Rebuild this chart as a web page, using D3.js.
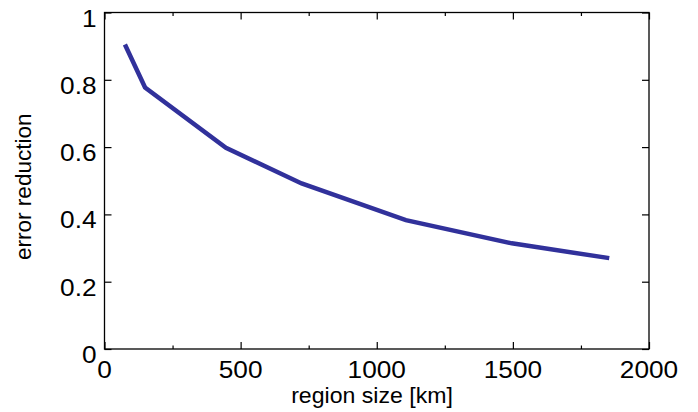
<!DOCTYPE html>
<html>
<head>
<meta charset="utf-8">
<script src="https://d3js.org/d3.v7.min.js"></script>
<style>
  html, body { margin: 0; padding: 0; background: #fff; }
  svg { display: block; }
  text { font-family: "Liberation Sans", Arial, Helvetica, sans-serif; fill: #000; }
</style>
</head>
<body>
<svg id="chart" width="698" height="412"></svg>
<script>
// ---- data ----
const regionSize = [75, 149, 446, 724, 1107, 1496, 1854];
const errorReduction = [0.905, 0.777, 0.598, 0.492, 0.383, 0.314, 0.270];
const xTickValues = [0, 500, 1000, 1500, 2000];
const xMinorTickValues = [250, 750, 1250, 1750];
const yTickValues = [0, 0.2, 0.4, 0.6, 0.8, 1];
const xTickLabels = ["0", "500", "1000", "1500", "2000"];
const yTickLabels = ["0", "0.2", "0.4", "0.6", "0.8", "1"];
const xLabel = "region size [km]";
const yLabel = "error reduction";

// ---- layout ----
const L = 104.5, R = 649, T = 12.5, B = 349;
const svg = d3.select("#chart");

const x = d3.scaleLinear().domain([0, 2000]).range([L, R]);
const y = d3.scaleLinear().domain([0, 1]).range([B, T]);

const majorLen = 7, minorLen = 3.5;

function styleAxis(g) {
  g.select(".domain").remove();
  g.selectAll(".tick text").remove();
  g.selectAll(".tick line").attr("stroke", "#000").attr("stroke-width", 1.2);
}

// bottom/top major + minor ticks (inward)
svg.append("g").attr("transform", `translate(0,${B})`)
  .call(d3.axisBottom(x).tickValues(xTickValues).tickSize(-majorLen)).call(styleAxis);
svg.append("g").attr("transform", `translate(0,${B})`)
  .call(d3.axisBottom(x).tickValues(xMinorTickValues).tickSize(-minorLen)).call(styleAxis);
svg.append("g").attr("transform", `translate(0,${T})`)
  .call(d3.axisTop(x).tickValues(xTickValues).tickSize(-majorLen)).call(styleAxis);
svg.append("g").attr("transform", `translate(0,${T})`)
  .call(d3.axisTop(x).tickValues(xMinorTickValues).tickSize(-minorLen)).call(styleAxis);
// left/right ticks (inward)
svg.append("g").attr("transform", `translate(${L},0)`)
  .call(d3.axisLeft(y).tickValues(yTickValues).tickSize(-majorLen)).call(styleAxis);
svg.append("g").attr("transform", `translate(${R},0)`)
  .call(d3.axisRight(y).tickValues(yTickValues).tickSize(-majorLen)).call(styleAxis);

// frame
svg.append("rect")
  .attr("x", L).attr("y", T).attr("width", R - L).attr("height", B - T)
  .attr("fill", "none").attr("stroke", "#000").attr("stroke-width", 1.3);

// tick labels
const tickFont = 24.5, tickScale = 1.07;
svg.append("g").selectAll("text").data(xTickValues).join("text")
  .attr("transform", d => `translate(${x(d)},378) scale(${tickScale},1)`)
  .attr("text-anchor", "middle")
  .style("font-size", tickFont + "px")
  .text((d, i) => xTickLabels[i]);
svg.append("g").selectAll("text").data(yTickValues).join("text")
  .attr("transform", d => `translate(96.5,${y(d) + 14}) scale(${tickScale},1)`)
  .attr("text-anchor", "end")
  .style("font-size", tickFont + "px")
  .text((d, i) => yTickLabels[i]);

// axis labels
svg.append("text")
  .attr("transform", `translate(372,403) scale(1.05,1)`)
  .attr("text-anchor", "middle")
  .style("font-size", "22px")
  .text(xLabel);
svg.append("text")
  .attr("transform", `translate(31,186.7) rotate(-90) scale(1.05,1)`)
  .attr("text-anchor", "middle")
  .style("font-size", "21.5px")
  .text(yLabel);

// line
const line = d3.line().x((d, i) => x(regionSize[i])).y(d => y(d));
svg.append("path")
  .datum(errorReduction)
  .attr("d", line)
  .attr("fill", "none")
  .attr("stroke", "#31319b")
  .attr("stroke-width", 4.5)
  .attr("stroke-linejoin", "miter")
  .attr("stroke-linecap", "butt");
</script>
</body>
</html>
